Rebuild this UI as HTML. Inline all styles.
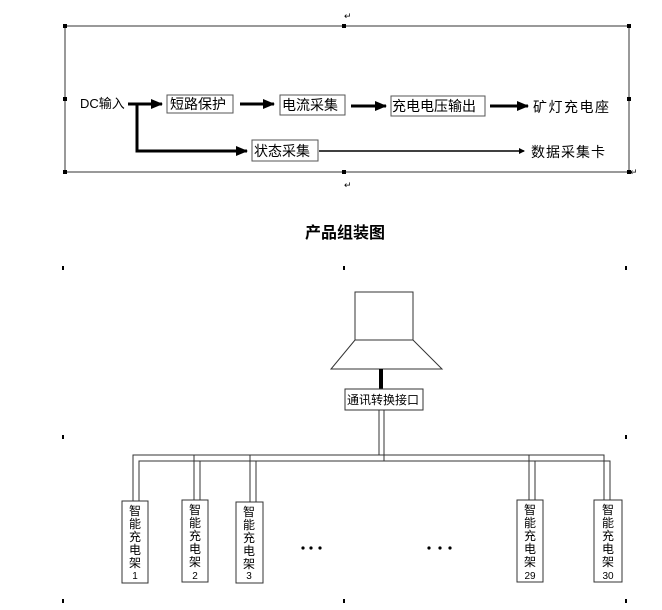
<!DOCTYPE html>
<html><head><meta charset="utf-8"><style>
html,body{margin:0;padding:0;background:#fff}
svg{display:block}
text{font-family:"Liberation Sans","Noto Sans CJK SC",sans-serif;fill:#000}
</style></head><body>
<svg width="662" height="610" viewBox="0 0 662 610" xmlns="http://www.w3.org/2000/svg">
<defs>
<marker id="ah" markerWidth="6" markerHeight="6" refX="5" refY="3" orient="auto" markerUnits="userSpaceOnUse"><path d="M0,0 L6,3 L0,6 z" fill="#000"/></marker>
<marker id="ab" markerWidth="12" markerHeight="10" refX="11" refY="5" orient="auto" markerUnits="userSpaceOnUse"><path d="M0,0 L12,5 L0,10 z" fill="#000"/></marker>
</defs>
<text x="344" y="19" font-size="9" fill="#777">↵</text>
<rect x="65" y="26" width="564" height="146" fill="none" stroke="#333" stroke-width="1"/>
<g fill="#000">
<rect x="63" y="24" width="4" height="4"/><rect x="342" y="24" width="4" height="4"/><rect x="627" y="24" width="4" height="4"/>
<rect x="63" y="97" width="4" height="4"/><rect x="627" y="97" width="4" height="4"/>
<rect x="63" y="170" width="4" height="4"/><rect x="342" y="170" width="4" height="4"/><rect x="627" y="170" width="4" height="4"/>
</g>
<text x="630" y="175" font-size="9" fill="#777">↵</text>
<text x="344" y="188" font-size="9" fill="#777">↵</text>

<text x="80" y="108" font-size="13">DC输入</text>
<g stroke="#000" stroke-width="3" fill="none">
<line x1="128" y1="104" x2="162" y2="104" marker-end="url(#ab)"/>
<line x1="240" y1="104" x2="274" y2="104" marker-end="url(#ab)"/>
<line x1="351" y1="106" x2="386" y2="106" marker-end="url(#ab)"/>
<line x1="490" y1="106" x2="528" y2="106" marker-end="url(#ab)"/>
<polyline points="137,104 137,151 247,151" marker-end="url(#ab)"/>
</g>
<line x1="319" y1="151" x2="524" y2="151" stroke="#000" stroke-width="1.5" marker-end="url(#ah)"/>
<g fill="#fff" stroke="#555" stroke-width="1">
<rect x="167" y="95" width="66" height="18"/>
<rect x="280" y="95" width="65" height="20"/>
<rect x="391" y="96" width="94" height="20"/>
<rect x="252" y="140" width="66" height="21"/>
</g>
<text x="170" y="109" font-size="14">短路保护</text>
<text x="282" y="110" font-size="14">电流采集</text>
<text x="392" y="111" font-size="14">充电电压输出</text>
<text x="533" y="112" font-size="14" letter-spacing="1.5">矿灯充电座</text>
<text x="254" y="156" font-size="14">状态采集</text>
<text x="531" y="157" font-size="14" letter-spacing="1">数据采集卡</text>

<text x="345" y="238" font-size="16" font-weight="bold" text-anchor="middle">产品组装图</text>

<g fill="#000">
<rect x="62" y="266" width="2" height="4"/><rect x="343" y="266" width="2" height="4"/><rect x="625" y="266" width="2" height="4"/>
<rect x="62" y="435" width="2" height="4"/><rect x="625" y="435" width="2" height="4"/>
<rect x="62" y="599" width="2" height="4"/><rect x="343" y="599" width="2" height="4"/><rect x="625" y="599" width="2" height="4"/>
</g>

<rect x="355" y="292" width="58" height="48" fill="none" stroke="#333"/>
<polygon points="355,340 413,340 442,369 331,369" fill="none" stroke="#333"/>
<line x1="381" y1="369" x2="381" y2="389" stroke="#000" stroke-width="4"/>
<rect x="345" y="389" width="78" height="21" fill="none" stroke="#333"/>
<text x="347" y="404" font-size="12">通讯转换接口</text>
<g stroke="#333" stroke-width="1" fill="none">
<line x1="379" y1="410" x2="379" y2="455"/>
<line x1="384" y1="410" x2="384" y2="461"/>
<polyline points="133,501 133,455 604,455 604,501"/>
<polyline points="139,501 139,461 610,461 610,501"/>
<line x1="194" y1="455" x2="194" y2="500"/><line x1="200" y1="461" x2="200" y2="500"/>
<line x1="250" y1="455" x2="250" y2="502"/><line x1="256" y1="461" x2="256" y2="502"/>
<line x1="529" y1="455" x2="529" y2="500"/><line x1="535" y1="461" x2="535" y2="500"/>
</g>
<g fill="#fff" stroke="#333" stroke-width="1">
<rect x="122" y="501" width="26" height="82"/>
<rect x="182" y="500" width="26" height="82"/>
<rect x="236" y="502" width="27" height="81"/>
<rect x="517" y="500" width="26" height="82"/>
<rect x="594" y="500" width="28" height="82"/>
</g>
<g font-size="12" text-anchor="middle">
<text x="135" y="515">智</text><text x="135" y="528">能</text><text x="135" y="541">充</text><text x="135" y="554">电</text><text x="135" y="567">架</text><text x="135" y="579" font-size="10">1</text>
<text x="195" y="514">智</text><text x="195" y="527">能</text><text x="195" y="540">充</text><text x="195" y="553">电</text><text x="195" y="566">架</text><text x="195" y="579" font-size="10">2</text>
<text x="249" y="516">智</text><text x="249" y="529">能</text><text x="249" y="542">充</text><text x="249" y="555">电</text><text x="249" y="568">架</text><text x="249" y="579" font-size="10">3</text>
<text x="530" y="514">智</text><text x="530" y="527">能</text><text x="530" y="540">充</text><text x="530" y="553">电</text><text x="530" y="566">架</text><text x="530" y="579" font-size="10">29</text>
<text x="608" y="514">智</text><text x="608" y="527">能</text><text x="608" y="540">充</text><text x="608" y="553">电</text><text x="608" y="566">架</text><text x="608" y="579" font-size="10">30</text>
</g>
<g fill="#000">
<circle cx="303" cy="548" r="1.6"/><circle cx="311" cy="548" r="1.6"/><circle cx="320" cy="548" r="1.6"/>
<circle cx="429" cy="548" r="1.6"/><circle cx="440" cy="548" r="1.6"/><circle cx="450" cy="548" r="1.6"/>
</g>
</svg>
</body></html>
